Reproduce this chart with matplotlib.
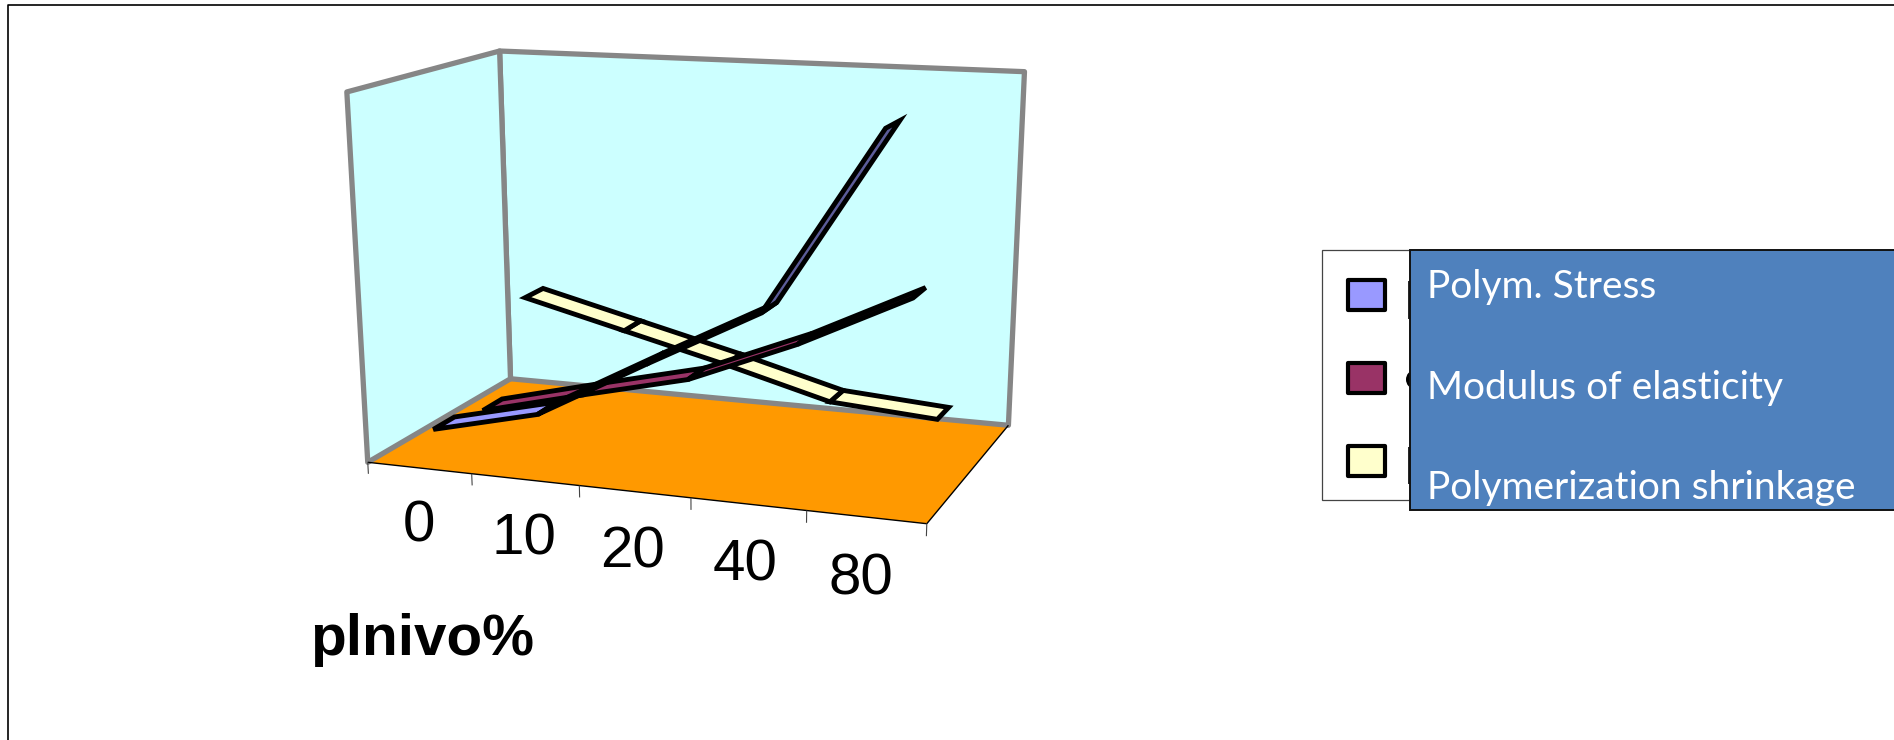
import numpy as np
import matplotlib
matplotlib.use("Agg")
import matplotlib.pyplot as plt
from matplotlib.patches import Rectangle, Ellipse
from mpl_toolkits.mplot3d import proj3d
from mpl_toolkits.mplot3d.art3d import Poly3DCollection, Line3DCollection

# Chart data
categories = ['0', '10', '20', '40', '80']
polym_stress = [8.3, 15.5, 32, 48, 96]
modulus = [5.3, 12.8, 20, 32.5, 47.5]
shrinkage = [31.5, 24, 16.5, 8.3, 6.1]
series_names = ['Polym. Stress', 'Modulus of elasticity', 'Polymerization shrinkage']
series_colors = ['#9999FF', '#993366', '#FFFFCC']
axis_title = 'plnivo%'

# Darkening of each ribbon segment (steep faces are shaded in the original)
polym_shade = [1, 1, 0.6, 0.6]
modulus_shade = [1, 1, 1, 0.7]
shrink_shade = [1, 1, 1, 1]

Z_MAX = 100
# front edge and width of the ribbons in depth, as a fraction of the box
depths = [0.10, 0.435, 0.77]
RIBBON = 0.14

# Pixel positions of the box corners, used to solve the camera of the 3D view
corner_uvw = [(0, 0, 0), (1, 0, 0), (0, 1, 0), (1, 1, 0), (0, 0, 1), (0, 1, 1), (1, 1, 1)]
corner_px = [(367.7, 461.7), (927, 524), (510.5, 379.3), (1008.3, 425),
             (346.7, 92.3), (499.8, 50.7), (1024.4, 71.7)]

W, H = 1894, 740
fig = plt.figure(figsize=(W / 100, H / 100), dpi=100)
ax = fig.add_axes([300 / W, 0, H / W, 1], projection='3d')
ax.set_axis_off()
ax.patch.set_visible(False)
ax.computed_zorder = False


def solve_camera():
    # DLT fit of a 3x4 camera in box fractions -> pixels
    rows = []
    for (u, v, w), (px, py) in zip(corner_uvw, corner_px):
        X = np.array([u, v, w, 1.0])
        px, py = px / 1000, py / 1000
        rows.append(np.r_[X, np.zeros(4), -px * X])
        rows.append(np.r_[np.zeros(4), X, -py * X])
    P = np.linalg.svd(np.array(rows))[2][-1].reshape(3, 4)
    # box fractions <- data units
    P = P @ np.diag([1 / len(categories), 1, 1 / Z_MAX, 1])
    # pixels -> the 2D view limits of the 3D axes
    vx0, vx1 = ax.viewLim.intervalx
    vy0, vy1 = ax.viewLim.intervaly
    sx = (vx1 - vx0) / H
    sy = (vy1 - vy0) / H
    A = np.array([[1000 * sx, 0, vx0 - 300 * sx],
                  [0, -1000 * sy, vy1],
                  [0, 0, 1]])
    P = A @ P
    depth = np.linalg.svd(P)[2][-1]
    return np.array([P[0], P[1], depth, P[2]])


M = solve_camera()
ax.get_proj = lambda: M

n = len(categories)
ax.set_xlim(0, n)
ax.set_ylim(0, 1)
ax.set_zlim(0, Z_MAX)

# Floor and walls
floor = [[(0, 0, 0), (n, 0, 0), (n, 1, 0), (0, 1, 0)]]
ax.add_collection3d(Poly3DCollection(floor, facecolors='#FF9900', edgecolors='none', zorder=1))
walls = [[(0, 0, 0), (0, 1, 0), (0, 1, Z_MAX), (0, 0, Z_MAX)],
         [(0, 1, 0), (n, 1, 0), (n, 1, Z_MAX), (0, 1, Z_MAX)]]
ax.add_collection3d(Poly3DCollection(walls, facecolors='#CCFFFF', edgecolors='#868686',
                                     linewidths=3.8, zorder=2))

# Floor edges and category ticks
edges = [[(0, 0, 0), (n, 0, 0)], [(n, 0, 0), (n, 1, 0)]]
ax.add_collection3d(Line3DCollection(edges, colors='black', linewidths=1.0, zorder=3))
ticks = [[(i, 0, 0), (i, 0, -3.3)] for i in range(n + 1)]
ax.add_collection3d(Line3DCollection(ticks, colors='#444444', linewidths=0.8, zorder=3))

# Category labels: placed where the camera puts them, drawn flat
for i, label in enumerate(categories):
    tx, ty, _ = proj3d.proj_transform(i + 0.47, 0, -17, M)
    ax.text2D(tx, ty, label, transform=ax.transData, fontsize=42, family='Liberation Sans',
              ha='center', va='center', color='black', zorder=4)


def shade(color, factor):
    rgb = np.array(matplotlib.colors.to_rgb(color)) * factor
    return tuple(rgb)


# Ribbons, back series first
all_values = [polym_stress, modulus, shrinkage]
all_shades = [polym_shade, modulus_shade, shrink_shade]
for s in [2, 1, 0]:
    values = all_values[s]
    front = depths[s]
    back = front + RIBBON
    quads = []
    colors = []
    for i in range(n - 1):
        quads.append([(i + 0.5, front, values[i]), (i + 1.5, front, values[i + 1]),
                      (i + 1.5, back, values[i + 1]), (i + 0.5, back, values[i])])
        colors.append(shade(series_colors[s], all_shades[s][i]))
    ax.add_collection3d(Poly3DCollection(quads, facecolors=colors, edgecolors='black',
                                         linewidths=3.5, joinstyle='miter', zorder=5 + (2 - s)))

# Flat overlay in pixels: frame, legend box and the text box laid over it
over = fig.add_axes([0, 0, 1, 1], zorder=5)
over.set_xlim(0, W)
over.set_ylim(H, 0)
over.axis('off')
over.patch.set_visible(False)

over.plot([7.5, 7.5, W], [H, 5.3, 5.3], color='black', lw=1.2)

over.add_patch(Rectangle((1322, 250), 100, 250, fc='white', ec='#444444', lw=0.9, zorder=2))
swatch_y = [278, 361, 444]
for y, c in zip(swatch_y, series_colors):
    over.add_patch(Rectangle((1347.5, y + 1.5), 37, 30, fc=c, ec='black', lw=3, joinstyle='round', zorder=3))

# bits of the legend text that stick out past the text box
over.plot([1409, 1409], [282, 318], color='#222222', lw=1.4, zorder=3)
over.plot([1409, 1409], [448, 483], color='#222222', lw=1.4, zorder=3)
over.add_patch(Ellipse((1414, 379.5), 16, 18, fc='black', ec='none', zorder=3))

over.add_patch(Rectangle((1410, 250), W - 1410 + 10, 260, fc='#4F81BD', ec='#111111', lw=1.4, zorder=4))
text_y = [298, 399, 499.5]
for y, name in zip(text_y, series_names):
    over.text(1427, y, name, color='white', fontsize=28, family='Lato',
              ha='left', va='baseline', zorder=5)

over.text(422.5, 655, axis_title, fontsize=42, fontweight='bold', family='Liberation Sans',
          ha='center', va='baseline', color='black')

fig.savefig('out.png', dpi=100)
